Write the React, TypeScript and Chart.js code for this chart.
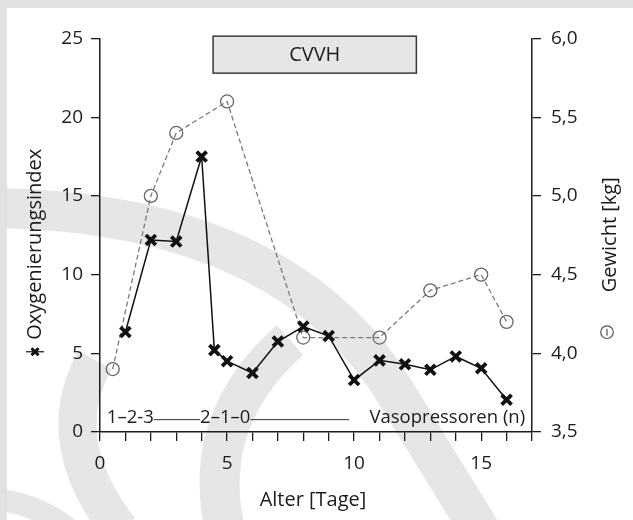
import React, { useEffect, useRef } from "react";
import { Chart, registerables } from "chart.js";

Chart.register(...registerables);

// ---- data ----
const oxyDays = [1, 2, 3, 4, 4.5, 5, 6, 7, 8, 9, 10, 11, 12, 13, 14, 15, 16];
const oxyValues = [6.35, 12.2, 12.1, 17.5, 5.2, 4.5, 3.75, 5.75, 6.7, 6.1, 3.3, 4.55, 4.3, 3.95, 4.8, 4.05, 2.05];
const weightDays = [0.5, 2, 3, 5, 8, 11, 13, 15, 16];
const weightValues = [3.9, 5.0, 5.4, 5.6, 4.1, 4.1, 4.4, 4.5, 4.2];

const xRange = [0, 17];
const leftRange = [0, 25];
const rightRange = [3.5, 6.0];
const xLabelEvery = 5;

const xTitle = "Alter [Tage]";
const leftTitle = "Oxygenierungsindex";
const rightTitle = "Gewicht [kg]";

const boxLabel = "CVVH";
const boxX = [4.45, 12.45];
const boxY = [22.8, 25.15];

const vasoLabels = ["1–2-3", "2–1–0"];
const vasoStarts = [0.27, 3.94];
const vasoLineEnd = 9.8;
const vasoTitle = "Vasopressoren (n)";
const vasoTitleEnd = 16.73;
const vasoLevel = 0.88;

const FONT = "'Open Sans', 'Noto Sans', sans-serif";
const INK = "#1c1c1c";

const overlay = {
  id: "overlay",
  beforeDraw(chart: any) {
    const { ctx } = chart;
    ctx.save();
    ctx.beginPath();
    ctx.rect(7, 8, 626, 512);
    ctx.clip();
    ctx.strokeStyle = "#e6e6e6";
    ctx.lineCap = "butt";
    // big arc band from left to bottom right
    ctx.lineWidth = 40;
    ctx.beginPath();
    ctx.moveTo(0, 208);
    ctx.bezierCurveTo(200, 212, 330, 280, 400, 400);
    ctx.lineTo(480, 530);
    ctx.stroke();
    // left lower swoosh
    ctx.lineWidth = 38;
    ctx.beginPath();
    ctx.moveTo(120, 530);
    ctx.quadraticCurveTo(50, 440, 95, 360);
    ctx.stroke();
    // middle swoosh
    ctx.lineWidth = 40;
    ctx.beginPath();
    ctx.moveTo(225, 530);
    ctx.quadraticCurveTo(200, 420, 290, 340);
    ctx.stroke();
    // bottom-left corner band
    ctx.lineWidth = 22;
    ctx.beginPath();
    ctx.moveTo(0, 500);
    ctx.quadraticCurveTo(40, 505, 70, 530);
    ctx.stroke();
    ctx.restore();
  },
  afterDraw(chart: any) {
    const { ctx, chartArea: ca, scales } = chart;
    const xs = scales.x;
    const ys = scales.y;
    ctx.save();
    // CVVH box
    const bx0 = xs.getPixelForValue(boxX[0]);
    const bx1 = xs.getPixelForValue(boxX[1]);
    const by0 = ys.getPixelForValue(boxY[1]);
    const by1 = ys.getPixelForValue(boxY[0]);
    ctx.fillStyle = "#e6e6e6";
    ctx.fillRect(bx0, by0, bx1 - bx0, by1 - by0);
    ctx.strokeStyle = "#3a3a3a";
    ctx.lineWidth = 1.5;
    ctx.strokeRect(bx0, by0, bx1 - bx0, by1 - by0);
    ctx.fillStyle = INK;
    ctx.font = `20px ${FONT}`;
    ctx.textAlign = "center";
    ctx.textBaseline = "middle";
    ctx.fillText(boxLabel, (bx0 + bx1) / 2, (by0 + by1) / 2 + 1);

    // vasopressor annotation
    ctx.font = `18.5px ${FONT}`;
    ctx.textAlign = "left";
    const vy = ys.getPixelForValue(vasoLevel);
    const starts: number[] = [];
    const ends: number[] = [];
    vasoLabels.forEach((t, i) => {
      const px = xs.getPixelForValue(vasoStarts[i]);
      ctx.fillText(t, px, vy);
      starts.push(px);
      ends.push(px + ctx.measureText(t).width);
    });
    ctx.strokeStyle = "#333";
    ctx.lineWidth = 1;
    ctx.beginPath();
    ctx.moveTo(ends[0], vy + 1.5);
    ctx.lineTo(starts[1], vy + 1.5);
    ctx.moveTo(ends[1], vy + 1.5);
    ctx.lineTo(xs.getPixelForValue(vasoLineEnd), vy + 1.5);
    ctx.stroke();
    ctx.textAlign = "right";
    ctx.fillText(vasoTitle, xs.getPixelForValue(vasoTitleEnd), vy);

    // axis titles
    ctx.font = `20px ${FONT}`;
    ctx.textAlign = "center";
    ctx.fillText(xTitle, (ca.left + ca.right) / 2 - 3, ca.bottom + 68);

    const midY = (ca.top + ca.bottom) / 2;
    // left
    const lx = ca.left - 65;
    const ly = midY + 9;
    ctx.save();
    ctx.translate(lx, ly);
    ctx.rotate(-Math.PI / 2);
    ctx.fillText(leftTitle, 0, 0);
    const lw = ctx.measureText(leftTitle).width;
    ctx.restore();
    const my = ly + lw / 2 + 12;
    ctx.strokeStyle = "#111";
    ctx.lineWidth = 1.2;
    ctx.beginPath();
    ctx.moveTo(lx - 9, my);
    ctx.lineTo(lx + 9, my);
    ctx.stroke();
    ctx.lineWidth = 3;
    ctx.beginPath();
    ctx.moveTo(lx - 3.5, my - 3.5);
    ctx.lineTo(lx + 3.5, my + 3.5);
    ctx.moveTo(lx + 3.5, my - 3.5);
    ctx.lineTo(lx - 3.5, my + 3.5);
    ctx.stroke();

    // right
    const rx = ca.right + 78;
    const ry = midY - 0.5;
    ctx.save();
    ctx.translate(rx, ry);
    ctx.rotate(-Math.PI / 2);
    ctx.fillText(rightTitle, 0, 0);
    const rw = ctx.measureText(rightTitle).width;
    ctx.restore();
    const cy = ry + rw / 2 + 40;
    const cx = rx - 3;
    ctx.strokeStyle = "#555";
    ctx.lineWidth = 1.2;
    ctx.beginPath();
    ctx.arc(cx, cy, 6.3, 0, Math.PI * 2);
    ctx.stroke();
    ctx.beginPath();
    ctx.moveTo(cx, cy - 3.5);
    ctx.lineTo(cx, cy + 3.5);
    ctx.stroke();
    ctx.restore();
  },
};

const axisGrid = {
  display: true,
  drawOnChartArea: false,
  drawTicks: true,
  tickLength: 9,
  color: INK,
  lineWidth: 1.3,
};
const axisBorder = { display: true, color: INK, width: 1.5 };
const tickFont = { family: FONT, size: 19 };

export default function App() {
  const ref = useRef<HTMLCanvasElement | null>(null);
  useEffect(() => {
    if (!ref.current) return;
    const chart = new Chart(ref.current, {
      type: "line",
      data: {
        datasets: [
          {
            label: leftTitle,
            data: oxyDays.map((d, i) => ({ x: d, y: oxyValues[i] })),
            yAxisID: "y",
            borderColor: "#111",
            borderWidth: 1.5,
            pointStyle: "crossRot",
            pointRadius: 7,
            pointBorderWidth: 3.8,
            pointBorderColor: "#111",
            pointBackgroundColor: "#111",
            tension: 0,
            clip: false,
          },
          {
            label: rightTitle,
            data: weightDays.map((d, i) => ({ x: d, y: weightValues[i] })),
            yAxisID: "y2",
            borderColor: "#7a7a7a",
            borderWidth: 1.3,
            borderDash: [5, 3],
            pointStyle: "circle",
            pointRadius: 6.5,
            pointBorderWidth: 1.3,
            pointBorderColor: "#666",
            pointBackgroundColor: "rgba(0,0,0,0)",
            tension: 0,
            clip: false,
          },
        ],
      },
      options: {
        responsive: false,
        animation: false,
        devicePixelRatio: 1,
        layout: { padding: { top: 38.5, left: 0, right: 0, bottom: 0 } },
        plugins: { legend: { display: false }, title: { display: false }, tooltip: { enabled: false } },
        scales: {
          x: {
            type: "linear",
            position: "bottom",
            min: xRange[0],
            max: xRange[1],
            ticks: {
              stepSize: 1,
              autoSkip: false,
              maxRotation: 0,
              color: INK,
              font: tickFont,
              padding: 11,
              callback: (v: any) => (Number(v) % xLabelEvery === 0 ? String(v) : ""),
            },
            grid: axisGrid,
            border: axisBorder,
            afterFit: (s: any) => {
              s.height = 88;
            },
          },
          y: {
            position: "left",
            min: leftRange[0],
            max: leftRange[1],
            ticks: { stepSize: 5, color: INK, font: tickFont, padding: 8 },
            grid: axisGrid,
            border: axisBorder,
            afterFit: (s: any) => {
              s.width = 100;
            },
          },
          y2: {
            position: "right",
            min: rightRange[0],
            max: rightRange[1],
            ticks: {
              stepSize: 0.5,
              color: INK,
              font: tickFont,
              padding: 10,
              callback: (v: any) => Number(v).toFixed(1).replace(".", ","),
            },
            grid: axisGrid,
            border: axisBorder,
            afterFit: (s: any) => {
              s.width = 101;
            },
          },
        },
      },
      plugins: [overlay],
    } as any);
    return () => chart.destroy();
  }, []);

  return (
    <div style={{ position: "fixed", left: 0, top: 0, width: 633, height: 520, background: "#e1e1e1", overflow: "hidden" }}>
      <div style={{ position: "absolute", left: 7, top: 8, right: 0, bottom: 0, background: "#fff" }} />
      <canvas ref={ref} width={633} height={520} style={{ position: "absolute", left: 0, top: 0, width: 633, height: 520 }} />
    </div>
  );
}
